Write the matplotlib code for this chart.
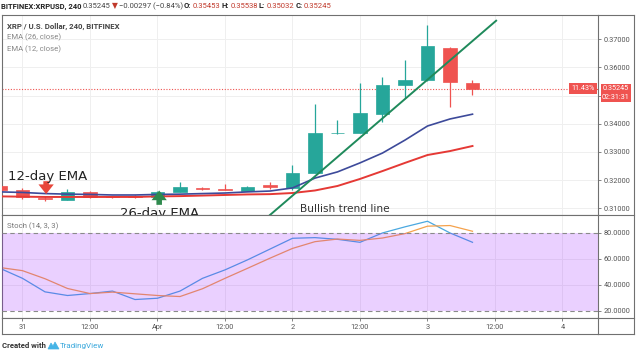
import matplotlib
matplotlib.use("Agg")
import matplotlib.pyplot as plt
from matplotlib.lines import Line2D
from matplotlib.patches import Polygon
import matplotlib.transforms as mtransforms

plt.rcParams['font.family'] = ['Roboto', 'DejaVu Sans']

# ---------------- data ----------------
candle_hours = [-4, 0, 4, 8, 12, 16, 20, 24, 28, 32, 36, 40, 44, 48, 52, 56, 60, 64, 68, 72, 76, 80]
opens  = [0.3179, 0.3166, 0.3138, 0.3130, 0.3158, 0.3142, 0.3144, 0.3141, 0.3158, 0.3173, 0.3168,
          0.3162, 0.3182, 0.3171, 0.3226, 0.3366, 0.3368, 0.3435, 0.3538, 0.3555, 0.3670, 0.35453]
highs  = [0.3182, 0.3172, 0.3142, 0.3168, 0.3160, 0.3145, 0.3146, 0.3160, 0.3194, 0.3175, 0.3186,
          0.3178, 0.3193, 0.3253, 0.3469, 0.3413, 0.3544, 0.3567, 0.3627, 0.3751, 0.3672, 0.35538]
lows   = [0.3162, 0.3133, 0.3127, 0.3128, 0.3138, 0.3137, 0.3138, 0.3138, 0.3156, 0.3165, 0.3163,
          0.3160, 0.3168, 0.3165, 0.3224, 0.3365, 0.3366, 0.3407, 0.3490, 0.3553, 0.3459, 0.35032]
closes = [0.3166, 0.3140, 0.3131, 0.3159, 0.3141, 0.3140, 0.3140, 0.3157, 0.3176, 0.3167, 0.3164,
          0.3175, 0.3176, 0.3226, 0.3366, 0.3368, 0.3437, 0.3538, 0.3555, 0.3676, 0.3547, 0.35245]
ema12 = [0.3158, 0.3156, 0.3152, 0.3150, 0.3149, 0.3147, 0.3147, 0.3149, 0.3150, 0.3152, 0.3154,
         0.3158, 0.3161, 0.3172, 0.3207, 0.3229, 0.3261, 0.3296, 0.3342, 0.3392, 0.3417, 0.3434]
ema26 = [0.3142, 0.3141, 0.3140, 0.3140, 0.3140, 0.3140, 0.3140, 0.3142, 0.3143, 0.3145, 0.3147,
         0.3149, 0.3150, 0.3154, 0.3163, 0.3179, 0.3204, 0.3232, 0.3261, 0.3289, 0.3303, 0.3321]
stoch_k = [52.8, 45.1, 34.7, 31.9, 33.4, 35.3, 28.8, 29.8, 35.3, 45.1, 51.6,
           59.3, 67.6, 75.9, 76.4, 75.1, 72.8, 80.0, 84.7, 89.0, 80.0, 72.8]
stoch_d = [53.4, 51.0, 44.8, 37.3, 33.4, 34.5, 33.2, 31.9, 31.1, 37.1, 45.1,
           52.8, 60.6, 68.1, 73.3, 75.3, 74.3, 76.1, 79.5, 85.2, 85.7, 81.3]
trend_hours = [44.0, 84.2]
trend_prices = [0.3076, 0.3766]
last_price = 0.35245
price_ticks = [0.31, 0.32, 0.33, 0.34, 0.35, 0.36, 0.37]
stoch_ticks = [20, 40, 60, 80]
time_tick_hours = [0, 12, 24, 36, 48, 60, 72, 84, 96]
time_tick_labels = ['31', '12:00', 'Apr', '12:00', '2', '12:00', '3', '12:00', '4']

UP = '#26a69a'
DN = '#ef5350'
GRID = '#efefef'
FRAME = '#707070'
TXT = '#555555'

W, H = 640, 358
fig = plt.figure(figsize=(W / 100, H / 100), dpi=100)

def fx(px):
    return px / W

def fy(py):
    return 1 - py / H

L, R = 2, 598
ax = fig.add_axes([fx(L), fy(215), (R - L) / W, 200 / H])
ax2 = fig.add_axes([fx(L), fy(318), (R - L) / W, 103 / H], sharex=ax)
ax3 = fig.add_axes([fx(L), fy(334), (R - L) / W, 16 / H], sharex=ax)

xmin = (L - 22.5) / 5.625
xmax = (R - 22.5) / 5.625
ax.set_xlim(xmin, xmax)
ax.set_ylim(0.30759, 0.37863)
ax2.set_ylim(14.6, 93.8)
ax3.set_ylim(0, 1)

for a in (ax, ax2, ax3):
    for s in a.spines.values():
        s.set_color(FRAME)
        s.set_linewidth(0.8)

# grid
for t in time_tick_hours:
    ax.axvline(t, color=GRID, lw=0.7, zorder=0)
    ax2.axvline(t, color=GRID, lw=0.7, zorder=0)
for p in price_ticks:
    ax.axhline(p, color=GRID, lw=0.7, zorder=0)
for s in (40, 60):
    ax2.axhline(s, color=GRID, lw=0.7, zorder=0)

# candles
bw = 2.4
for t, o, h, l, c in zip(candle_hours, opens, highs, lows, closes):
    col = UP if c >= o else DN
    ax.vlines(t, l, h, color=col, lw=0.9, zorder=2)
    ax.bar(t, abs(c - o) if abs(c - o) > 0.00025 else 0.00025, bottom=min(o, c), width=bw,
           color=col, edgecolor=col, lw=0.5, zorder=3)

# EMAs
ax.plot(candle_hours, ema26, color='#e53935', lw=1.4, zorder=4)
ax.plot(candle_hours, ema12, color='#3d4a9a', lw=1.2, zorder=4)

# trend line
ax.plot(trend_hours, trend_prices, color='#1f8a5b', lw=1.4, zorder=5)

# last price dotted line
ax.axhline(last_price, color=DN, lw=0.8, ls=(0, (1, 1.5)), zorder=1)

# arrows
arrow_style = 'simple,head_length=0.35,head_width=0.55,tail_width=0.2'
ax.annotate('', xy=(4.2, 0.3150), xytext=(4.2, 0.3196),
            arrowprops=dict(arrowstyle=arrow_style, color='#e8463a', lw=0,
                            shrinkA=0, shrinkB=0, mutation_scale=20), zorder=6)
ax.annotate('', xy=(24.3, 0.3163), xytext=(24.3, 0.3112),
            arrowprops=dict(arrowstyle=arrow_style, color='#2f8a4e', lw=0,
                            shrinkA=0, shrinkB=0, mutation_scale=20), zorder=6)

# annotation texts
ax.text(0.010, 0.175, '12-day EMA', transform=ax.transAxes, fontsize=9.5,
        family=['DejaVu Sans'], color='#222222', va='baseline', ha='left', zorder=7)
ax.text(0.198, -0.0125, '26-day EMA', transform=ax.transAxes, fontsize=9.5,
        family=['DejaVu Sans'], color='#222222', va='baseline', ha='left', clip_on=True, zorder=7)
ax.text(0.500, 0.0175, 'Bullish trend line', transform=ax.transAxes, fontsize=7.6,
        family=['DejaVu Sans'], color='#333333', va='baseline', ha='left', zorder=7)

# legend texts
ax.text(5 / (R - L), (215 - 26) / 200, 'XRP / U.S. Dollar, 240, BITFINEX',
        transform=ax.transAxes, fontsize=5.6, color='#444444', weight='bold', va='center')
ax.text(5 / (R - L), (215 - 37.5) / 200, 'EMA (26, close)', transform=ax.transAxes,
        fontsize=5.6, color='#888888', va='center')
ax.text(5 / (R - L), (215 - 49) / 200, 'EMA (12, close)', transform=ax.transAxes,
        fontsize=5.6, color='#888888', va='center')

# price axis
ax.yaxis.tick_right()
ax.set_yticks(price_ticks)
ax.set_yticklabels(['%.5f' % p for p in price_ticks])
ax.tick_params(axis='y', length=2, width=0.6, color=FRAME, labelsize=5.3, labelcolor=TXT, pad=2)
ax.tick_params(axis='x', bottom=False, labelbottom=False)

# stochastic
ax2.plot(candle_hours, stoch_k, color='#4aa8e0', lw=0.9, zorder=2)
ax2.plot(candle_hours, stoch_d, color='#f5a24c', lw=0.9, zorder=2)
ax2.axhspan(20, 80, color='#9915ff', alpha=0.2, lw=0, zorder=3)
ax2.axhline(80, color='#8a8a8a', lw=0.8, ls=(0, (4, 3)), zorder=4)
ax2.axhline(20, color='#8a8a8a', lw=0.8, ls=(0, (4, 3)), zorder=4)
ax2.yaxis.tick_right()
ax2.set_yticks(stoch_ticks)
ax2.set_yticklabels(['%.4f' % s for s in stoch_ticks])
ax2.tick_params(axis='y', length=2, width=0.6, color=FRAME, labelsize=5.3, labelcolor=TXT, pad=2)
ax2.tick_params(axis='x', bottom=False, labelbottom=False)
ax2.text(5 / (R - L), (318 - 226) / 103, 'Stoch (14, 3, 3)', transform=ax2.transAxes,
         fontsize=5.6, color='#777777', va='center')

# time axis strip
ax3.set_yticks([])
ax3.set_xticks(time_tick_hours)
ax3.tick_params(axis='x', bottom=False, top=True, direction='in', length=2, width=0.6,
                color=FRAME, labelbottom=False, labeltop=False)
tr3 = mtransforms.blended_transform_factory(ax3.transData, ax3.transAxes)
for t, lab in zip(time_tick_hours, time_tick_labels):
    ax3.text(t, 0.42, lab, transform=tr3, ha='center', va='center', fontsize=5.3, color=TXT)

# outer frame to the right column
for (x0, y0, x1, y1) in [(R, 15, 634, 15), (634, 15, 634, 334), (R, 334, 634, 334),
                         (R, 215, 634, 215), (R, 318, 634, 318)]:
    fig.add_artist(Line2D([fx(x0), fx(x1)], [fy(y0), fy(y1)], color=FRAME, lw=0.8))

# last price labels
trp = mtransforms.blended_transform_factory(fig.transFigure, ax.transData)
fig.text(fx(616), last_price, '%.5f' % last_price, transform=trp, ha='center', va='center',
         fontsize=5.2, color='white',
         bbox=dict(boxstyle='square,pad=0.2', fc=DN, ec='none'))
fig.text(fx(616), fy(97.5), '02:31:31', ha='center', va='center', fontsize=5.2, color='white',
         bbox=dict(boxstyle='square,pad=0.2', fc=DN, ec='none'))
fig.text(fx(583), last_price, '11.43%', transform=trp, ha='center', va='center',
         fontsize=5.2, color='white',
         bbox=dict(boxstyle='square,pad=0.3', fc=DN, ec='none'))

# header
renderer = fig.canvas.get_renderer()

def seq_text(x0, y, parts, size):
    x = x0
    for s, col, wt in parts:
        t = fig.text(x, y, s, fontsize=size, color=col, weight=wt, va='center', ha='left')
        bb = t.get_window_extent(renderer)
        x = bb.x1 / fig.bbox.width + 1.2 / W

DARK = '#222222'
RED = '#c0392b'
seq_text(fx(1), fy(6), [
    ('BITFINEX:XRPUSD, 240', DARK, 'bold'),
    ('%.5f' % closes[-1], '#444444', 'normal'),
    ('\u25bc', RED, 'normal'),
    ('\u22120.00297 (\u22120.84%)', '#444444', 'normal'),
    ('O:', DARK, 'bold'), ('%.5f' % opens[-1], RED, 'normal'),
    ('H:', DARK, 'bold'), ('%.5f' % highs[-1], RED, 'normal'),
    ('L:', DARK, 'bold'), ('%.5f' % lows[-1], RED, 'normal'),
    ('C:', DARK, 'bold'), ('%.5f' % closes[-1], RED, 'normal'),
], 5.5)

# footer
fig.text(fx(2), fy(346), 'Created with', fontsize=5.6, color='#333333', weight='bold',
         va='center', ha='left')
logo = Polygon([[fx(48), fy(349)], [fx(51), fy(343)], [fx(53), fy(346)], [fx(55), fy(342)],
                [fx(59), fy(349)]], closed=True, transform=fig.transFigure,
               fc='#45b4e6', ec='#45b4e6', lw=0.5)
fig.add_artist(logo)
fig.text(fx(60), fy(346), 'TradingView', fontsize=5.8, color='#3aa8dc', va='center', ha='left')

fig.savefig('out.png', dpi=100, facecolor='white')
